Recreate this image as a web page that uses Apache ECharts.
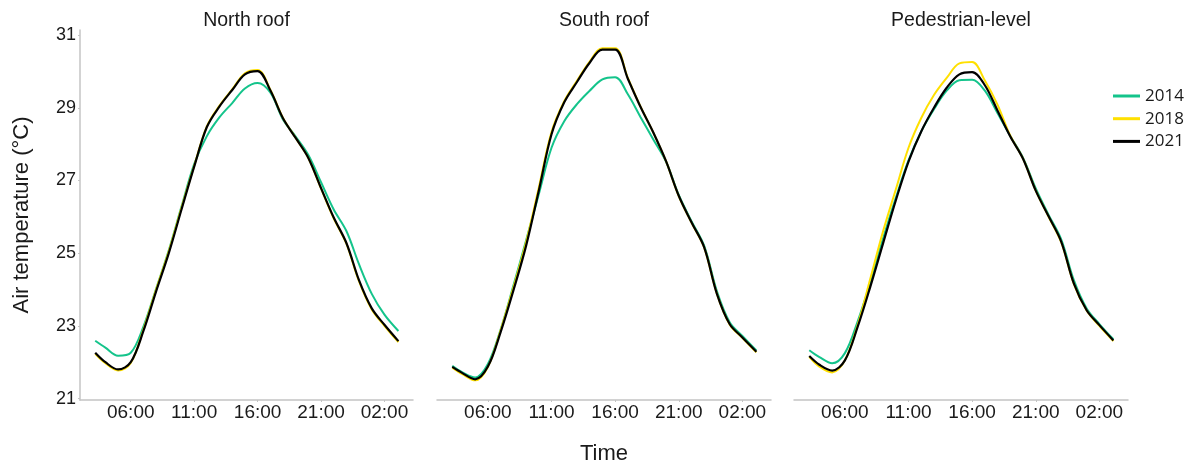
<!DOCTYPE html>
<html>
<head>
<meta charset="utf-8">
<script src="https://cdn.jsdelivr.net/npm/echarts@6/dist/echarts.min.js"></script>
<style>
html,body{margin:0;padding:0;background:#fff;}
#chart{width:1190px;height:466px;}
</style>
</head>
<body>
<div id="chart"></div>
<script>
// ---- data ----
const panels = ['North roof', 'South roof', 'Pedestrian-level'];
const years = ['2014', '2018', '2021'];
const hours = [3.2, 4, 5, 6, 7, 8, 9, 10, 11, 12, 13, 14, 15, 16, 17, 18, 19, 20, 21, 22, 23, 24, 25, 26, 27.1];
const xTicks = [6, 11, 16, 21, 26];
const yTicks = [21, 23, 25, 27, 29, 31];

const north2014 = [22.59, 22.40, 22.18, 22.26, 22.98, 24.02, 25.08, 26.28, 27.45, 28.22, 28.74, 29.13, 29.53, 29.68, 29.42, 28.68, 28.21, 27.70, 26.95, 26.20, 25.61, 24.69, 23.88, 23.31, 22.86];
const north2018 = [22.23, 21.97, 21.77, 21.98, 22.90, 24.00, 25.05, 26.25, 27.40, 28.49, 29.06, 29.51, 29.95, 30.04, 29.50, 28.72, 28.17, 27.62, 26.78, 25.96, 25.26, 24.22, 23.45, 23.00, 22.55];
const north2021 = [22.26, 22.00, 21.80, 22.00, 22.86, 23.95, 25.00, 26.20, 27.38, 28.47, 29.04, 29.49, 29.92, 30.01, 29.48, 28.71, 28.17, 27.62, 26.79, 25.98, 25.28, 24.25, 23.48, 23.03, 22.58];

const south2014 = [21.90, 21.72, 21.58, 21.95, 22.90, 24.10, 25.35, 26.62, 27.90, 28.63, 29.10, 29.47, 29.78, 29.84, 29.37, 28.74, 28.13, 27.52, 26.60, 25.88, 25.20, 23.95, 23.10, 22.72, 22.32];
const south2018 = [21.85, 21.67, 21.50, 21.87, 22.88, 24.05, 25.30, 26.80, 28.33, 29.18, 29.74, 30.27, 30.64, 30.64, 29.82, 29.03, 28.32, 27.53, 26.57, 25.84, 25.15, 23.88, 23.04, 22.67, 22.27];
const south2021 = [21.87, 21.70, 21.53, 21.88, 22.83, 23.97, 25.20, 26.72, 28.27, 29.15, 29.71, 30.24, 30.60, 30.60, 29.80, 29.02, 28.32, 27.53, 26.58, 25.85, 25.16, 23.88, 23.05, 22.68, 22.29];

const ped2014 = [22.33, 22.14, 21.97, 22.25, 23.12, 24.20, 25.40, 26.52, 27.55, 28.35, 28.96, 29.47, 29.76, 29.77, 29.47, 28.85, 28.22, 27.62, 26.78, 26.06, 25.38, 24.25, 23.48, 23.05, 22.63];
const ped2018 = [22.15, 21.88, 21.72, 22.05, 23.02, 24.30, 25.60, 26.75, 27.90, 28.72, 29.35, 29.82, 30.22, 30.26, 29.75, 29.08, 28.23, 27.60, 26.72, 26.01, 25.30, 24.15, 23.42, 23.00, 22.58];
const ped2021 = [22.17, 21.93, 21.77, 22.05, 22.97, 24.08, 25.27, 26.45, 27.52, 28.35, 29.00, 29.55, 29.92, 29.98, 29.62, 28.92, 28.21, 27.60, 26.72, 26.02, 25.32, 24.16, 23.43, 23.02, 22.60];

const panelData = [
  [north2014, north2018, north2021],
  [south2014, south2018, south2021],
  [ped2014, ped2018, ped2021]
];
const colors = ['#14C48B', '#FFE000', '#000000'];

// ---- layout ----
const FONT = '"Liberation Sans", Arial, sans-serif';
const gridDefs = [
  {left: 80, top: 30, width: 333, height: 370, outerBoundsMode: 'none', containLabel: false},
  {left: 437, top: 30, width: 334, height: 370, outerBoundsMode: 'none', containLabel: false},
  {left: 794, top: 30, width: 334, height: 370, outerBoundsMode: 'none', containLabel: false}
];
const axisGray = '#c4c4c4';
const fmtHour = v => String(Math.round(v) % 24).padStart(2, '0') + ':00';

const xAxes = gridDefs.map((g, i) => ({
  type: 'value', gridIndex: i, min: 2, max: 28.25,
  splitLine: {show: false},
  axisLine: {onZero: false, lineStyle: {color: axisGray, width: 1.5}},
  axisTick: {show: true, length: 2, customValues: xTicks, lineStyle: {color: axisGray}},
  axisLabel: {customValues: xTicks, formatter: fmtHour, color: '#1a1a1a', fontSize: 19, fontFamily: FONT, margin: 3},
  name: i === 1 ? 'Time' : '', nameLocation: 'middle', nameGap: 43,
  nameTextStyle: {fontSize: 22, color: '#1a1a1a', fontFamily: FONT}
}));
const yAxes = gridDefs.map((g, i) => ({
  type: 'value', gridIndex: i, min: 20.96, max: 31.14,
  splitLine: {show: false},
  axisLine: {show: i === 0, lineStyle: {color: axisGray, width: 1.5}},
  axisTick: {show: i === 0, length: 2, customValues: yTicks, lineStyle: {color: axisGray}},
  axisLabel: {show: i === 0, customValues: yTicks, color: '#1a1a1a', fontSize: 18, fontFamily: FONT, margin: 4},
  name: i === 0 ? 'Air temperature (°C)' : '', nameLocation: 'middle', nameGap: 47, nameRotate: 90,
  nameTextStyle: {fontSize: 22, color: '#1a1a1a', fontFamily: FONT}
}));

const series = [];
panelData.forEach((sets, p) => {
  sets.forEach((vals, k) => {
    series.push({
      name: years[k], type: 'line', xAxisIndex: p, yAxisIndex: p,
      data: hours.map((h, j) => [h, vals[j]]),
      showSymbol: false, smooth: 0.35, silent: true,
      lineStyle: {color: colors[k], width: k === 2 ? 2.2 : 2},
      itemStyle: {color: colors[k]},
      z: 2 + k
    });
  });
});

const graphics = panels.map((t, i) => ({
  type: 'text',
  x: gridDefs[i].left + gridDefs[i].width / 2, y: 21,
  style: {text: t, fill: '#1a1a1a', font: '19.5px ' + FONT, textAlign: 'center', textVerticalAlign: 'middle'}
}));

const chart = echarts.init(document.getElementById('chart'), null, {renderer: 'canvas'});
chart.setOption({
  animation: false,
  backgroundColor: '#ffffff',
  grid: gridDefs,
  xAxis: xAxes,
  yAxis: yAxes,
  legend: {
    data: years, orient: 'vertical', left: 1108, top: 81,
    icon: 'rect', itemWidth: 27, itemHeight: 3, itemGap: 2.7,
    textStyle: {fontSize: 17, lineHeight: 20, color: '#1a1a1a', fontFamily: '"Open Sans", sans-serif'}
  },
  graphic: graphics,
  series: series
});
</script>
</body>
</html>
